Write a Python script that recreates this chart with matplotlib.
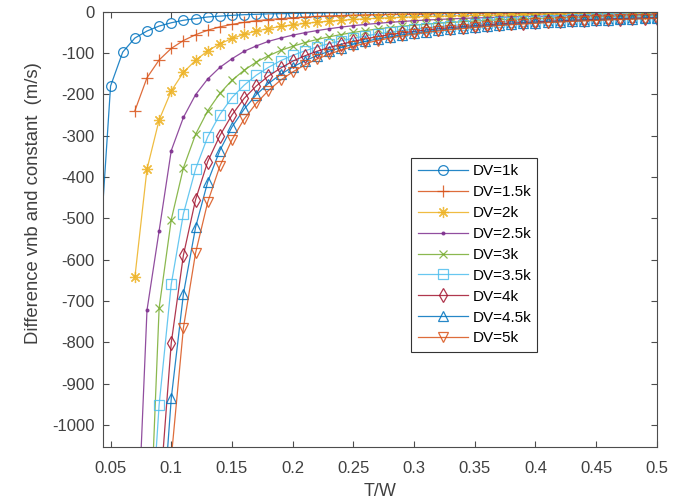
import numpy as np
import matplotlib
matplotlib.use("Agg")
import matplotlib.pyplot as plt

plt.rcParams['font.family'] = ['Liberation Sans', 'DejaVu Sans']

# T/W grid
tw = [0.04, 0.05, 0.06, 0.07, 0.08, 0.09, 0.10, 0.11, 0.12, 0.13, 0.14, 0.15,
      0.16, 0.17, 0.18, 0.19, 0.20, 0.21, 0.22, 0.23, 0.24, 0.25, 0.26, 0.27,
      0.28, 0.29, 0.30, 0.31, 0.32, 0.33, 0.34, 0.35, 0.36, 0.37, 0.38, 0.39,
      0.40, 0.41, 0.42, 0.43, 0.44, 0.45, 0.46, 0.47, 0.48, 0.49, 0.50]

nan = np.nan
dv_1k = [-630, -180, -98, -64, -47, -35, -27, -21, -17, -13, -11, -9,
         -7.5, -6.5, -5.5, -5, -4.5, -4, -3.6, -3.2, -2.9, -2.6, -2.4, -2.2,
         -2, -1.8, -1.7, -1.6, -1.5, -1.4, -1.3, -1.2, -1.1, -1.05, -1, -0.95,
         -0.9, -0.85, -0.8, -0.75, -0.7, -0.68, -0.65, -0.62, -0.6, -0.57, -0.55]
dv_1_5k = [nan, nan, nan, -240, -160, -117, -89, -70, -56, -45, -37, -31,
           -26, -22, -19.5, -17, -15, -13.3, -11.8, -10.6, -9.5, -8.6, -7.8, -7.1,
           -6.5, -5.9, -5.4, -5.0, -4.6, -4.3, -4.0, -3.7, -3.5, -3.3, -3.1, -3.0,
           -2.9, -2.8, -2.7, -2.6, -2.5, -2.45, -2.4, -2.35, -2.3, -2.25, -2.2]
dv_2k = [nan, nan, nan, -643, -381, -262, -192, -147, -118, -95, -78, -65,
         -55, -47, -41, -36, -32, -28.5, -25.5, -23, -21, -19, -17.5, -16,
         -14.8, -13.7, -12.7, -11.8, -11, -10.3, -9.7, -9.1, -8.6, -8.1, -7.7, -7.3,
         -6.9, -6.6, -6.3, -6.0, -5.8, -5.5, -5.3, -5.1, -4.9, -4.7, -4.5]
dv_2_5k = [nan, nan, nan, -1420, -722, -530, -336, -256, -201, -163, -135, -114,
           -96, -83, -72, -64, -57, -51, -46, -41.5, -37.5, -34, -31, -28.5,
           -26, -24, -22, -20.5, -19, -17.7, -16.5, -15.5, -14.5, -13.7, -12.9, -12.2,
           -11.5, -10.9, -10.3, -9.8, -9.3, -8.9, -8.5, -8.1, -7.8, -7.5, -7.2]
dv_3k = [nan, nan, nan, nan, -1445, -717, -503, -378, -297, -240, -198, -166,
         -142, -122, -107, -94, -84, -75, -67.5, -61, -55.5, -50.5, -46, -42,
         -38.5, -35.5, -33, -30.5, -28.3, -26.3, -24.5, -22.9, -21.4, -20, -18.8, -17.6,
         -16.6, -15.6, -14.7, -13.9, -13.2, -12.5, -11.8, -11.2, -10.7, -10.2, -9.7]
dv_3_5k = [nan, nan, nan, nan, -1400, -951, -659, -489, -381, -303, -249, -208,
           -178, -154, -135, -119, -106, -95, -85.5, -77.5, -70.5, -64.5, -59, -54,
           -50, -46, -42.5, -39.5, -36.5, -34, -31.8, -29.7, -27.8, -26, -24.4, -23,
           -21.6, -20.4, -19.2, -18.2, -17.2, -16.3, -15.5, -14.7, -14, -13.3, -12.7]
dv_4k = [nan, nan, nan, nan, nan, -1190, -801, -589, -455, -363, -300, -250,
         -210, -180, -156, -137, -120, -107, -96, -87, -79, -72, -66, -60.5,
         -56, -51.5, -48, -44.5, -41.5, -38.7, -36.2, -33.9, -31.8, -29.8, -28, -26.4,
         -24.9, -23.5, -22.2, -21, -19.9, -18.8, -17.8, -16.9, -16.1, -15.3, -14.6]
dv_4_5k = [nan, nan, nan, nan, nan, -1340, -935, -683, -522, -412, -336, -279,
           -236, -201, -174, -152, -134, -119, -106.5, -96, -87, -79, -72, -66,
           -61, -56, -52, -48.5, -45, -42, -39.3, -36.8, -34.5, -32.4, -30.4, -28.6,
           -27, -25.5, -24.1, -22.8, -21.6, -20.4, -19.3, -18.3, -17.4, -16.6, -15.8]
dv_5k = [nan, nan, nan, nan, nan, -1700, -1080, -765, -584, -461, -374, -310,
         -260, -222, -191, -166, -146, -129, -115, -103, -93, -84, -76.5, -70,
         -64, -59, -54.5, -50.5, -47, -43.8, -41, -38.4, -36, -33.8, -31.8, -29.9,
         -28.2, -26.6, -25.1, -23.7, -22.4, -21.2, -20.1, -19.1, -18.1, -17.2, -16.4]

labels = ['DV=1k', 'DV=1.5k', 'DV=2k', 'DV=2.5k', 'DV=3k',
          'DV=3.5k', 'DV=4k', 'DV=4.5k', 'DV=5k']
series = [dv_1k, dv_1_5k, dv_2k, dv_2_5k, dv_3k, dv_3_5k, dv_4k, dv_4_5k, dv_5k]
# MATLAB-style asterisk = 8-spoke marker
markers = ['o', '+', (8, 2, 0), '.', 'x', 's', 'd', '^', 'v']
colors = ['#0072BD', '#D95319', '#EDB120', '#7E2F8E', '#77AC30',
          '#4DBEEE', '#A2142F', '#0072BD', '#D95319']
msizes = [7, 9, 8, 4, 6, 6.5, 7, 7, 7]

fig = plt.figure(figsize=(6.87, 5.04), dpi=100)
ax = fig.add_axes([0.150, 0.113, 0.806, 0.864])

for y, lab, m, c, ms in zip(series, labels, markers, colors, msizes):
    ax.plot(tw, y, marker=m, color=c, label=lab, linewidth=0.9, alpha=0.85,
            markersize=ms, markerfacecolor=c if m == '.' else 'none',
            markeredgewidth=0.9)

ax.set_xlim(0.0438, 0.5)
ax.set_ylim(-1053, 0)
ax.set_xticks(np.arange(0.05, 0.501, 0.05))
ax.set_xticklabels(['0.05', '0.1', '0.15', '0.2', '0.25', '0.3', '0.35', '0.4', '0.45', '0.5'])
ax.set_yticks(np.arange(-1000, 1, 100))
ax.set_yticklabels([str(v) for v in range(-1000, 1, 100)])

axis_col = '#4d4d4d'
for sp in ax.spines.values():
    sp.set_color(axis_col)
    sp.set_linewidth(0.8)
ax.tick_params(direction='in', length=4, width=0.8, colors=axis_col,
               labelcolor='#404040', labelsize=12, top=True, right=True)
ax.tick_params(axis='x', pad=10)
ax.tick_params(axis='y', pad=6)

ax.set_xlabel('T/W', fontsize=13, color='#404040', labelpad=5)
ax.set_ylabel('Difference vnb and constant  (m/s)', fontsize=13.3, color='#404040')
ax.yaxis.set_label_coords(-0.11, 0.56)

leg = ax.legend(loc='upper left', bbox_to_anchor=(0.557, 0.663), borderaxespad=0,
                fontsize=11, frameon=True, fancybox=False, framealpha=1,
                handlelength=3.3, labelspacing=0.45, borderpad=0.4, handletextpad=0.3)
leg.get_frame().set_edgecolor('#333333')
leg.get_frame().set_linewidth(0.8)

fig.savefig('out.png', dpi=100)
